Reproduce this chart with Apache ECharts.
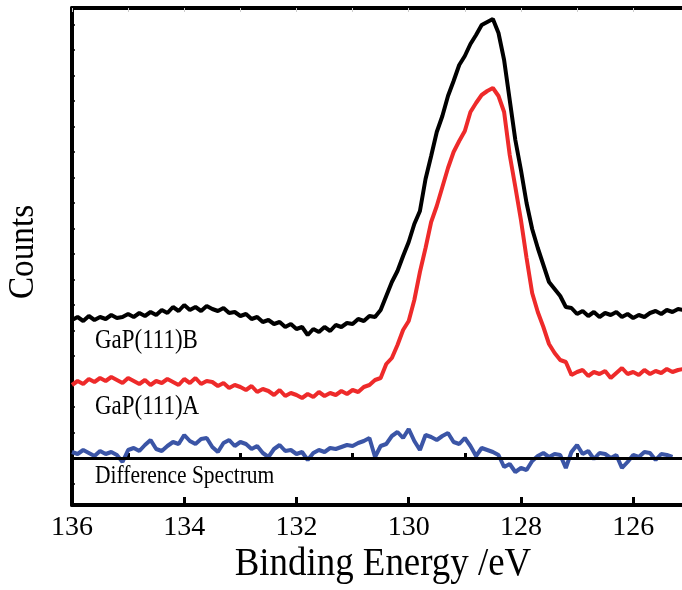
<!DOCTYPE html>
<html>
<head>
<meta charset="utf-8">
<script src="https://cdn.jsdelivr.net/npm/echarts@6/dist/echarts.min.js"></script>
<style>
  html, body { margin: 0; padding: 0; background: #fff; }
  #chart { width: 682px; height: 590px; }
</style>
</head>
<body>
<div id="chart"></div>
<script>
// binding energy (eV), one point per 0.1 eV
var energy = [
    136.0, 135.9, 135.8, 135.7, 135.6, 135.5, 135.4, 135.3, 135.2, 135.1,
    135.0, 134.9, 134.8, 134.7, 134.6, 134.5, 134.4, 134.3, 134.2, 134.1,
    134.0, 133.9, 133.8, 133.7, 133.6, 133.5, 133.4, 133.3, 133.2, 133.1,
    133.0, 132.9, 132.8, 132.7, 132.6, 132.5, 132.4, 132.3, 132.2, 132.1,
    132.0, 131.9, 131.8, 131.7, 131.6, 131.5, 131.4, 131.3, 131.2, 131.1,
    131.0, 130.9, 130.8, 130.7, 130.6, 130.5, 130.4, 130.3, 130.2, 130.1,
    130.0, 129.9, 129.8, 129.7, 129.6, 129.5, 129.4, 129.3, 129.2, 129.1,
    129.0, 128.9, 128.8, 128.7, 128.6, 128.5, 128.4, 128.3, 128.2, 128.1,
    128.0, 127.9, 127.8, 127.7, 127.6, 127.5, 127.4, 127.3, 127.2, 127.1,
    127.0, 126.9, 126.8, 126.7, 126.6, 126.5, 126.4, 126.3, 126.2, 126.1,
    126.0, 125.9, 125.8, 125.7, 125.6, 125.5, 125.4, 125.3, 125.2, 125.1
];

// GaP(111)B (offset counts)
var gapB = [
    138, 141, 137, 142, 138, 141, 139, 143, 140, 141,
    144, 141, 145, 142, 146, 143, 148, 145, 151, 147,
    153, 148, 151, 147, 152, 149, 147, 150, 145, 146,
    142, 144, 139, 141, 136, 138, 134, 136, 131, 134,
    129, 131, 123, 129, 126, 131, 127, 133, 131, 135,
    134, 139, 137, 142, 141, 148, 162, 176, 187, 202,
    216, 234, 247, 279, 302, 326, 342, 362, 377, 393,
    402, 414, 423, 433, 436, 439, 425, 398, 358, 318,
    288, 255, 229, 210, 193, 176, 169, 162, 151, 150,
    144, 147, 142, 146, 141, 145, 143, 146, 141, 144,
    140, 143, 141, 145, 147, 144, 148, 146, 149, 148
];

// GaP(111)A (offset counts)
var gapA = [
    73, 77, 74, 79, 76, 80, 77, 81, 78, 75,
    80, 77, 74, 78, 73, 77, 75, 79, 76, 73,
    79, 75, 80, 74, 77, 76, 72, 75, 70, 73,
    71, 68, 72, 66, 69, 67, 63, 68, 62, 65,
    63, 60, 64, 61, 66, 62, 65, 63, 67, 64,
    68, 66, 71, 73, 78, 80, 94, 100, 113, 128,
    137, 158, 186, 210, 236, 252, 271, 290, 306, 317,
    327, 346, 355, 363, 367, 370, 362, 346, 303, 271,
    238, 200, 165, 146, 131, 114, 105, 98, 96, 83,
    86, 88, 82, 86, 84, 87, 80, 85, 90, 84,
    86, 83, 88, 84, 87, 85, 89, 86, 88, 89
];

// difference spectrum (ends at 125.3 eV)
var diffSpec = [
    6, 4, 8, 5, 2, 7, 4, 6, 3, -4,
    8, 10, 7, 13, 18, 9, 7, 12, 16, 14,
    23, 17, 14, 19, 20, 11, 6, 15, 18, 12,
    16, 14, 9, 12, 5, 1, 9, 13, 7, 8,
    4, 6, -2, 5, 8, 6, 10, 9, 11, 13,
    12, 15, 17, 20, 1, 12, 14, 22, 26, 20,
    29, 17, 8, 23, 21, 18, 22, 25, 16, 14,
    20, 12, 2, 10, 8, 6, 3, -9, -6, -14,
    -10, -12, -3, 2, 5, 1, 4, 3, -10, 6,
    13, 4, 7, -1, 5, 4, 0, 3, -10, -4,
    3, 1, 6, 5, -2, 4, 3, 1
];

var majorTicks = [136, 134, 132, 130, 128, 126];
var minorTicks = [135, 133, 131, 129, 127];
var topTicks = [136, 135, 134, 133, 132, 131, 130, 129, 128, 127, 126];
var yTicks = [-25.5, 0, 25.5, 51, 76.5, 102, 127.5, 153, 178.5, 204, 229.5, 255, 280.5, 306, 331.5, 357, 382.5, 408, 433.5];

var serif = "'Liberation Serif', 'Times New Roman', serif";

function pairs(vals) {
    return vals.map(function (v, i) { return [energy[i], v]; });
}

var myChart = echarts.init(document.getElementById('chart'));
myChart.setOption({
    animation: false,
    grid: { left: 72, right: 0, top: 8, bottom: 85 },
    xAxis: [
        {
            type: 'value', min: 125.13, max: 136, inverse: true, position: 'bottom',
            axisLine: { onZero: false, lineStyle: { color: '#000', width: 4 } },
            axisTick: { inside: true, length: 8, customValues: majorTicks, lineStyle: { color: '#000', width: 3 } },
            axisLabel: { customValues: majorTicks, color: '#000', fontSize: 28, fontFamily: serif, margin: 9 },
            splitLine: { show: false }
        },
        {
            type: 'value', min: 125.13, max: 136, inverse: true, position: 'bottom',
            axisLine: { show: false },
            axisTick: { inside: true, length: 5, customValues: minorTicks, lineStyle: { color: '#000', width: 3 } },
            axisLabel: { show: false },
            splitLine: { show: false }
        },
        {
            type: 'value', min: 125.13, max: 136, inverse: true, position: 'top',
            axisLine: { onZero: false, lineStyle: { color: '#000', width: 4 } },
            axisTick: { inside: true, length: 4, customValues: topTicks, lineStyle: { color: '#ccc', width: 1 } },
            axisLabel: { show: false },
            splitLine: { show: false }
        }
    ],
    yAxis: {
        type: 'value', min: -47, max: 450,
        axisLine: { show: true, onZero: false, lineStyle: { color: '#000', width: 4 } },
        axisTick: { show: true, inside: true, length: 3, customValues: yTicks, lineStyle: { color: '#000', width: 1.5 } },
        axisLabel: { show: false },
        splitLine: { show: false }
    },
    series: [
        {
            name: 'GaP(111)B', type: 'line', xAxisIndex: 0, showSymbol: false,
            data: pairs(gapB),
            lineStyle: { color: '#000', width: 4 }
        },
        {
            name: 'GaP(111)A', type: 'line', xAxisIndex: 0, showSymbol: false,
            data: pairs(gapA),
            lineStyle: { color: '#ee2a2a', width: 4 }
        },
        {
            name: 'Difference Spectrum', type: 'line', xAxisIndex: 0, showSymbol: false,
            data: pairs(diffSpec),
            lineStyle: { color: '#3b55a6', width: 4 },
            markLine: {
                silent: true,
                symbol: ['none', 'none'],
                label: { show: false },
                lineStyle: { color: '#000', width: 3, type: 'solid' },
                data: [{ yAxis: 0 }]
            }
        }
    ],
    graphic: [
        {
            type: 'text', x: 24, y: 252, rotation: Math.PI / 2, scaleX: 0.95,
            style: { text: 'Counts', font: '35px ' + serif, fill: '#000', align: 'center', verticalAlign: 'middle' }
        },
        {
            type: 'text', x: 383, y: 564, scaleX: 0.9,
            style: { text: 'Binding Energy /eV', font: '41px ' + serif, fill: '#000', align: 'center', verticalAlign: 'middle' }
        },
        {
            type: 'text', x: 95, y: 341, scaleX: 0.85,
            style: { text: 'GaP(111)B', font: '27px ' + serif, fill: '#000', align: 'left', verticalAlign: 'middle' }
        },
        {
            type: 'text', x: 95, y: 407, scaleX: 0.85,
            style: { text: 'GaP(111)A', font: '27px ' + serif, fill: '#000', align: 'left', verticalAlign: 'middle' }
        },
        {
            type: 'text', x: 95, y: 476, scaleX: 0.86,
            style: { text: 'Difference Spectrum', font: '25px ' + serif, fill: '#000', align: 'left', verticalAlign: 'middle' }
        }
    ]
});
</script>
</body>
</html>
